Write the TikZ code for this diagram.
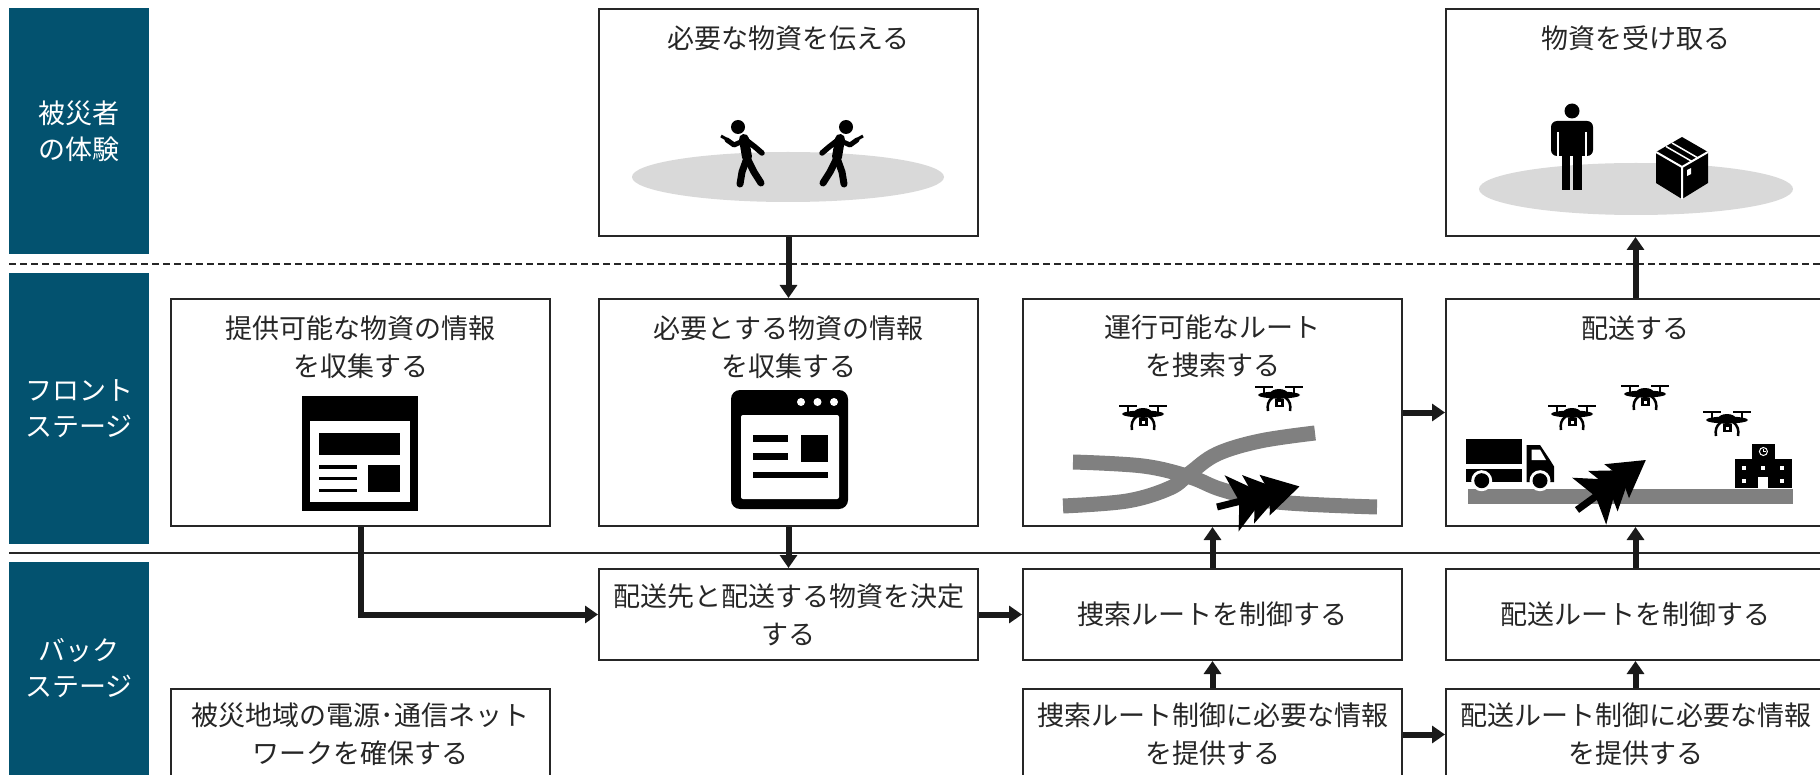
\documentclass[tikz,border=0pt]{standalone}
\usepackage{fontspec}
\setmainfont{Noto Sans CJK JP}
\usetikzlibrary{arrows.meta}
\definecolor{lane}{HTML}{03526F}
\definecolor{ink}{HTML}{262626}
\definecolor{arrowink}{HTML}{1A1A1A}
\definecolor{road}{HTML}{808080}
\definecolor{floorgray}{HTML}{D9D9D9}

\tikzset{
  lanebox/.style={fill=lane, text=white, inner sep=0pt, minimum width=140pt,
    align=center, font=\fontsize{27}{36}\selectfont},
  box/.style={draw=ink, line width=2pt, fill=white, inner sep=0pt, minimum width=379pt},
  bigbox/.style={box, minimum height=227pt},
  smallbox/.style={box, minimum height=91pt, align=center, text=ink,
    font=\fontsize{27}{38}\selectfont},
  title/.style={text=ink, align=center, inner sep=0pt, font=\fontsize{27}{38}\selectfont},
  flow/.style={draw=arrowink, line width=6pt, -{Triangle[width=17pt,length=13pt]}},
  separator/.style={draw=ink, line width=1.6pt},
  roadline/.style={draw=road, line width=15pt},
  % small drone: rotors, body, legs and camera
  dronepic/.pic={
    \draw[line width=2.5pt] (-24,-11) -- (-6,-11) (6,-11) -- (24,-11);
    \draw[line width=2.5pt] (-15,-11) -- (-15,-4) (15,-11) -- (15,-4);
    \fill (0,-3) ellipse [x radius=21, y radius=3.5];
    \fill (0,-4) ellipse [x radius=9, y radius=5];
    \draw[line width=2.5pt] (-6,-1) .. controls (-11,3) and (-12,7) .. (-11,13);
    \draw[line width=2.5pt] (6,-1) .. controls (11,3) and (12,7) .. (11,13);
    \fill (-4.5,1) rectangle (4.5,9);
    \fill[white] (-1.5,3.5) rectangle (1.5,6.5);
  },
  % moving pointer: a stem with three stacked heads
  cursorpic/.pic={
    \draw[line width=7pt] (0,0) -- (30,0);
    \fill (15,-29) -- (51,0) -- (15,29) -- (23,0) -- cycle;
    \fill (32,-25) -- (68,0) -- (32,25) -- (39,0) -- cycle;
    \fill (49,-21) -- (85,0) -- (49,21) -- (55,0) -- cycle;
  },
  % walking person looking at a phone
  walkerpic/.pic={
    \fill (0,0) circle [radius=7];
    \draw[line width=10pt, line cap=round] (6,12) -- (9,30);
    \draw[line width=5.5pt, line cap=round, line join=round] (8,13) -- (17,20) -- (24,26);
    \draw[line width=5pt, line cap=round, line join=round] (5,14) -- (-4,18) -- (-11,13);
    \draw[line width=3pt] (-17,9) -- (-10,13);
    \draw[line width=7pt, line cap=round, line join=round] (9,31) -- (4,45) -- (2,57);
    \draw[line width=7pt, line cap=round, line join=round] (9,31) -- (16,45) -- (23,56);
  }
}

\begin{document}
\begin{tikzpicture}[x=1pt,y=-1pt]
\path[use as bounding box] (0,0) rectangle (1820,775);
\begin{scope}
\clip (0,0) rectangle (1820,775);

% lane headings
\node[lanebox, minimum height=246pt] (lane1) at (79,131) {被災者\\の体験};
\node[lanebox, minimum height=271pt] (lane2) at (79,408.5) {フロント\\ステージ};
\node[lanebox, minimum height=213pt] (lane3) at (79,668.5) {バック\\ステージ};

% lane separators
\coordinate (dashL) at (9,264);
\coordinate (dashR) at (1820,264);
\coordinate (lineL) at (9,553);
\coordinate (lineR) at (1820,553);
\draw[separator, line width=1.4pt, dash pattern=on 7pt off 4pt] (dashL) -- (dashR);
\draw[separator] (lineL) -- (lineR);

% victim experience row
\node[bigbox] (b1) at (788.5,122.5) {};
\node[bigbox] (b2) at (1635.5,122.5) {};
\node[title] (t1) at (788.5,38) {必要な物資を伝える};
\node[title] (t2) at (1635.5,38) {物資を受け取る};

% front stage row
\node[bigbox] (m1) at (360.5,412.5) {};
\node[bigbox] (m2) at (788.5,412.5) {};
\node[bigbox] (m3) at (1212.5,412.5) {};
\node[bigbox] (m4) at (1635.5,412.5) {};
\node[title] (t3) at (360.5,347.5) {提供可能な物資の情報\\を収集する};
\node[title] (t4) at (788.5,347.5) {必要とする物資の情報\\を収集する};
\node[title] (t5) at (1212.5,346.5) {運行可能なルート\\を捜索する};
\node[title] (t6) at (1635.5,328) {配送する};

% back stage rows
\node[smallbox] (k2) at (788.5,614.5) {配送先と配送する物資を決定\\する};
\node[smallbox] (k3) at (1212.5,614.5) {捜索ルートを制御する};
\node[smallbox] (k4) at (1635.5,614.5) {配送ルートを制御する};
\node[smallbox] (l1) at (360.5,734.5) {被災地域の電源･通信ネット\\ワークを確保する};
\node[smallbox] (l3) at (1212.5,734.5) {捜索ルート制御に必要な情報\\を提供する};
\node[smallbox] (l4) at (1635.5,734.5) {配送ルート制御に必要な情報\\を提供する};

% flows
\draw[flow] (b1.south) -- (m2.north);
\draw[flow] (m4.north) -- (b2.south);
\draw[flow] (m1.south) |- (k2.west);
\draw[flow] (m2.south) -- (k2.north);
\draw[flow] (k2.east) -- (k3.west);
\draw[flow] (k3.north) -- (m3.south);
\draw[flow] (l3.north) -- (k3.south);
\draw[flow] (l3.east) -- (l4.west);
\draw[flow] (l4.north) -- (k4.south);
\draw[flow] (k4.north) -- (m4.south);
\draw[flow] (m3.east) -- (m4.west);

% --- two people with phones
\fill[floorgray] (788,177) ellipse [x radius=156, y radius=25];
\pic at (738,127) {walkerpic};
\pic[xscale=-1] at (846,127) {walkerpic};

% --- person receiving a parcel
\fill[floorgray] (1636,189) ellipse [x radius=157, y radius=26];
\fill (1572,111) circle [radius=7.5];
\fill[rounded corners=6pt] (1551,121) rectangle (1593,156);
\fill (1561.7,148) rectangle (1570.2,190);
\fill (1573.3,148) rectangle (1581.8,190);
\draw[white, line width=1.5pt] (1558,132) -- (1558,157) (1586,132) -- (1586,157);
% parcel
\fill (1682,137) -- (1708,152) -- (1708,183) -- (1682,199) -- (1656,183) -- (1656,152) -- cycle;
\draw[white, line width=2pt] (1656,152) -- (1682,167) -- (1708,152) (1682,167) -- (1682,199);
\draw[white, line width=1.5pt] (1666,146.5) -- (1692,161.5) (1672,143) -- (1698,158);
\fill[white] (1687,170) -- (1691,168) -- (1691,174) -- (1687,176) -- cycle;

% --- list page icon
\fill (302,396) rectangle (418,511);
\fill[white] (310,421) rectangle (410,502);
\fill (319,433) rectangle (400,455);
\fill (319,465) rectangle (357,468.5);
\fill (319,476.5) rectangle (357,480);
\fill (319,488.5) rectangle (357,492);
\fill (368,465) rectangle (400,492);

% --- browser window icon
\fill[rounded corners=9pt] (731,390) rectangle (848,509);
\fill[white, rounded corners=2pt] (741,415) rectangle (839,499);
\fill[white] (801,402) circle [radius=4] (817.5,402) circle [radius=4] (834,402) circle [radius=4];
\fill (753,435) rectangle (788,442);
\fill (753,453) rectangle (788,460);
\fill (801,435) rectangle (828,462);
\fill (753,472) rectangle (828,478);

% --- crossing routes with drones
\draw[roadline] plot[smooth, tension=0.6] coordinates {(1073,462) (1143,466) (1190,477) (1223,490) (1277,502) (1377,507)};
\draw[roadline] plot[smooth, tension=0.6] coordinates {(1063,506) (1127,501) (1170,488) (1190,473) (1217,454) (1260,441) (1315,433)};
\pic at (1143,417) {dronepic};
\pic at (1279,398) {dronepic};
\pic[rotate=14] at (1217,507) {cursorpic};

% --- delivery road with truck, drones and school
\fill[road] (1468,489) rectangle (1793,504);
% truck
\fill (1466,439) rectangle (1522,463.5);
\fill (1466,468.5) rectangle (1522,482);
\fill (1526.7,445) -- (1540,445) -- (1550,460) -- (1554,466.5) -- (1554,482) -- (1526.7,482) -- cycle;
\fill[white] (1531.5,449.5) -- (1540,449.5) -- (1546,460) -- (1531.5,460) -- cycle;
\fill[white] (1481.7,480.7) circle [radius=10.5] (1540,480.7) circle [radius=10.5];
\fill (1481.7,480.7) circle [radius=7.5] (1540,480.7) circle [radius=7.5];
% school
\fill (1735,459.3) rectangle (1791.7,488.3);
\fill (1751.7,444) rectangle (1775,459.5);
\draw[white, line width=1pt] (1763.4,451.5) circle [radius=4];
\draw[white, line width=0.8pt] (1763.4,448.5) -- (1763.4,451.5) -- (1765.5,451.5);
\fill[white] (1742.3,465.7) rectangle (1746.3,469.7);
\fill[white] (1761.3,465.7) rectangle (1765.3,469.7);
\fill[white] (1779.7,465.7) rectangle (1783.7,469.7);
\fill[white] (1742.3,479) rectangle (1746.3,483);
\fill[white] (1779.7,479) rectangle (1783.7,483);
\fill[white] (1758.3,476.7) rectangle (1768.3,488.3);
% drones and pointer
\pic at (1572,417) {dronepic};
\pic at (1645,397) {dronepic};
\pic at (1727,423) {dronepic};
\pic[rotate=36] at (1577,510) {cursorpic};

\end{scope}
\end{tikzpicture}
\end{document}
